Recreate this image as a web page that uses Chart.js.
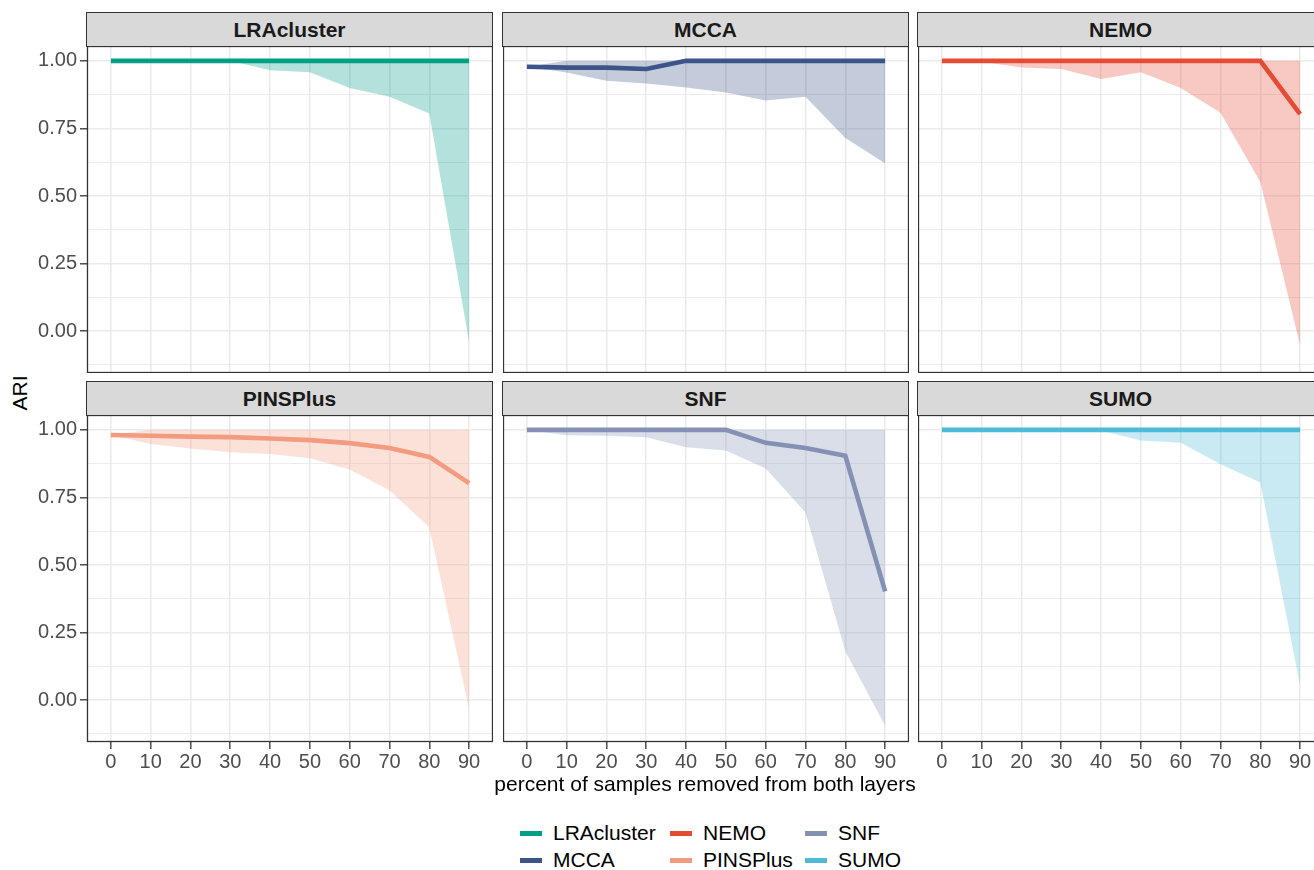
<!DOCTYPE html>
<html>
<head>
<meta charset="utf-8">
<script src="https://cdn.jsdelivr.net/npm/chart.js@4.4.0/dist/chart.umd.min.js"></script>
<style>
  html, body { margin: 0; padding: 0; background: #fff; }
  body { position: relative; width: 1314px; height: 870px; overflow: hidden; font-family: "Liberation Sans", Arial, sans-serif; }
  canvas { position: absolute; }
  .strip { position: absolute; box-sizing: border-box; background: #D9D9D9; border: 1.3px solid #333333;
           color: #1A1A1A; font-weight: bold; font-size: 21px; text-align: center; line-height: 33px; }
  .title { position: absolute; color: #000; font-size: 21px; white-space: nowrap; }
  .key { position: absolute; width: 22px; height: 5px; }
  .lab { position: absolute; font-size: 21px; color: #000; line-height: 24px; white-space: nowrap; }
</style>
</head>
<body>
<script>
// percent of samples removed
const percents = [0, 10, 20, 30, 40, 50, 60, 70, 80, 90];
const methods = ["LRAcluster", "MCCA", "NEMO", "PINSPlus", "SNF", "SUMO"];
const colors = ["#00A087", "#3C5488", "#E64B35", "#F39B7F", "#8491B4", "#4DBBD5"];
const yTicks = [0, 0.25, 0.5, 0.75, 1];
const yMinor = [-0.125, 0.125, 0.375, 0.625, 0.875];

// ARI per method: line (mid) and shaded range (low..high)
const lraclusterMid  = [1, 1, 1, 1, 1, 1, 1, 1, 1, 1];
const lraclusterLow  = [1, 1, 1, 1, 0.965, 0.958, 0.90, 0.867, 0.805, -0.04];
const lraclusterHigh = [1, 1, 1, 1, 1, 1, 1, 1, 1, 1];

const mccaMid  = [0.978, 0.975, 0.975, 0.97, 1, 1, 1, 1, 1, 1];
const mccaLow  = [0.978, 0.957, 0.926, 0.916, 0.901, 0.883, 0.853, 0.867, 0.715, 0.621];
const mccaHigh = [0.978, 1, 1, 1, 1, 1, 1, 1, 1, 1];

const nemoMid  = [1, 1, 1, 1, 1, 1, 1, 1, 1, 0.803];
const nemoLow  = [1, 0.997, 0.975, 0.97, 0.933, 0.958, 0.90, 0.808, 0.552, -0.052];
const nemoHigh = [1, 1, 1, 1, 1, 1, 1, 1, 1, 1];

const pinsMid  = [0.981, 0.978, 0.975, 0.973, 0.968, 0.962, 0.951, 0.933, 0.90, 0.803];
const pinsLow  = [0.981, 0.948, 0.931, 0.917, 0.911, 0.895, 0.853, 0.777, 0.639, -0.033];
const pinsHigh = [0.981, 1, 1, 1, 1, 1, 1, 1, 1, 1];

const snfMid  = [1, 1, 1, 1, 1, 1, 0.952, 0.933, 0.904, 0.402];
const snfLow  = [1, 0.98, 0.978, 0.973, 0.936, 0.924, 0.857, 0.694, 0.181, -0.095];
const snfHigh = [1, 1, 1, 1, 1, 1, 1, 1, 1, 1];

const sumoMid  = [1, 1, 1, 1, 1, 1, 1, 1, 1, 1];
const sumoLow  = [1, 1, 1, 1, 0.998, 0.961, 0.952, 0.873, 0.805, 0.053];
const sumoHigh = [1, 1, 1, 1, 1, 1, 1, 1, 1, 1];

const mids  = [lraclusterMid, mccaMid, nemoMid, pinsMid, snfMid, sumoMid];
const lows  = [lraclusterLow, mccaLow, nemoLow, pinsLow, snfLow, sumoLow];
const highs = [lraclusterHigh, mccaHigh, nemoHigh, pinsHigh, snfHigh, sumoHigh];

const FONT = '"Liberation Sans", Arial, sans-serif';
const colLeft = [87, 503, 918];
const rowTop = [46, 415];
const panelW = 406, panelH = 327;

function pts(vals) {
  return vals.map((v, k) => ({ x: percents[k], y: v }));
}

function withAlpha(hex, a) {
  const n = parseInt(hex.slice(1), 16);
  return "rgba(" + (n >> 16) + "," + ((n >> 8) & 255) + "," + (n & 255) + "," + a + ")";
}

const isMajorY = v => yTicks.some(t => Math.abs(t - v) < 1e-9);

const panelBorder = {
  id: "panelBorder",
  afterDraw(chart) {
    const a = chart.chartArea, ctx = chart.ctx;
    ctx.save();
    ctx.strokeStyle = "#333333";
    ctx.lineWidth = 1.3;
    ctx.strokeRect(a.left + 0.5, a.top + 0.5, a.right - a.left - 1, a.bottom - a.top - 1);
    ctx.restore();
  }
};

function makePanel(i) {
  const col = i % 3, row = Math.floor(i / 3);
  const yW = col === 0 ? 87 : 0;
  const xH = row === 1 ? 34 : 0;

  const canvas = document.createElement("canvas");
  canvas.width = panelW + yW;
  canvas.height = panelH + xH;
  canvas.style.left = (colLeft[col] - yW) + "px";
  canvas.style.top = rowTop[row] + "px";
  document.body.appendChild(canvas);

  const strip = document.createElement("div");
  strip.className = "strip";
  strip.textContent = methods[i];
  strip.style.left = (colLeft[col] - 1) + "px";
  strip.style.width = (panelW + 1) + "px";
  strip.style.top = (rowTop[row] - 34) + "px";
  strip.style.height = "35px";
  document.body.appendChild(strip);

  new Chart(canvas, {
    type: "line",
    data: {
      datasets: [
        { data: pts(mids[i]), borderColor: colors[i], borderWidth: 4.6, pointRadius: 0, fill: false, order: 0 },
        { data: pts(highs[i]), borderColor: "rgba(0,0,0,0)", borderWidth: 0, pointRadius: 0, fill: false, order: 1 },
        { data: pts(lows[i]), borderColor: "rgba(0,0,0,0)", borderWidth: 0, pointRadius: 0,
          fill: 1, backgroundColor: withAlpha(colors[i], 0.3), order: 2 }
      ]
    },
    options: {
      responsive: false,
      animation: false,
      devicePixelRatio: 1,
      layout: { padding: 0 },
      plugins: { legend: { display: false }, tooltip: { enabled: false } },
      scales: {
        x: {
          type: "linear",
          min: -6,
          max: 96,
          afterBuildTicks: s => { s.ticks = percents.map(v => ({ value: v })); },
          afterFit: s => { s.height = xH; s.paddingLeft = 0; s.paddingRight = 0; },
          border: { display: false },
          grid: { color: "#EBEBEB", lineWidth: 1.6, drawTicks: row === 1, tickLength: 7, tickColor: "#333333", tickWidth: 1.3 },
          ticks: { display: row === 1, autoSkip: false, maxRotation: 0, padding: 1, color: "#4D4D4D",
                   font: { size: 20, family: FONT }, callback: v => String(v) }
        },
        y: {
          type: "linear",
          min: -0.155,
          max: 1.055,
          afterBuildTicks: s => { s.ticks = yMinor.concat(yTicks).sort((a, b) => a - b).map(v => ({ value: v })); },
          afterFit: s => { s.width = yW; s.paddingTop = 0; s.paddingBottom = 0; },
          border: { display: false },
          grid: {
            color: "#EBEBEB",
            lineWidth: c => (c.tick && isMajorY(c.tick.value)) ? 1.6 : 0.9,
            drawTicks: col === 0,
            tickLength: 7,
            tickWidth: 1.3,
            tickColor: c => (c.tick && isMajorY(c.tick.value)) ? "#333333" : "rgba(0,0,0,0)"
          },
          ticks: { display: col === 0, autoSkip: false, padding: 3, color: "#4D4D4D",
                   font: { size: 20, family: FONT },
                   callback: v => isMajorY(v) ? v.toFixed(2) : "" }
        }
      }
    },
    plugins: [panelBorder]
  });
}

for (let i = 0; i < methods.length; i++) makePanel(i);

// axis titles
const xt = document.createElement("div");
xt.className = "title";
xt.textContent = "percent of samples removed from both layers";
xt.style.left = "705px";
xt.style.top = "772px";
xt.style.transform = "translateX(-50%)";
document.body.appendChild(xt);

const yt = document.createElement("div");
yt.className = "title";
yt.textContent = "ARI";
yt.style.left = "20px";
yt.style.top = "393px";
yt.style.transform = "translate(-50%, -50%) rotate(-90deg)";
document.body.appendChild(yt);

// legend, three columns of two
const keyX = [520, 670, 805];
const rowY = [833, 860];
methods.forEach((m, i) => {
  const c = Math.floor(i / 2), r = i % 2;
  const k = document.createElement("div");
  k.className = "key";
  k.style.background = colors[i];
  k.style.left = keyX[c] + "px";
  k.style.top = (rowY[r] - 2.5) + "px";
  document.body.appendChild(k);
  const t = document.createElement("div");
  t.className = "lab";
  t.textContent = m;
  t.style.left = (keyX[c] + 33) + "px";
  t.style.top = (rowY[r] - 12) + "px";
  document.body.appendChild(t);
});
</script>
</body>
</html>
